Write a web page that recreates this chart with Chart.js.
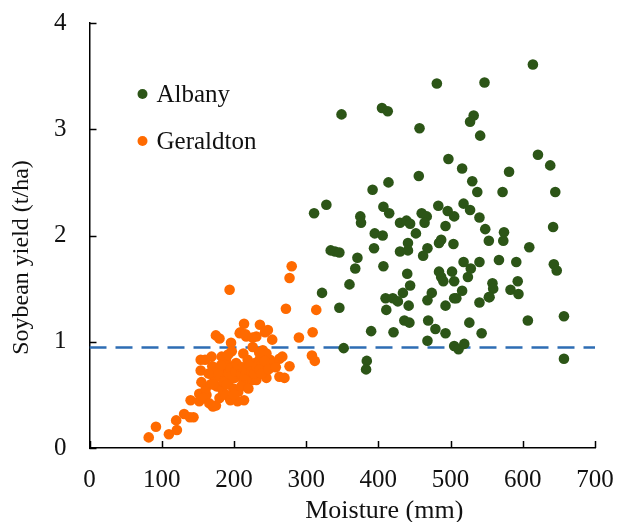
<!DOCTYPE html>
<html>
<head>
<meta charset="utf-8">
<script src="https://cdn.jsdelivr.net/npm/chart.js@4.4.1/dist/chart.umd.min.js"></script>
<style>
  html, body { margin: 0; padding: 0; background: #fff; }
  #wrap { width: 617px; height: 522px; }
</style>
</head>
<body>
<div id="wrap"><canvas id="yieldChart" width="617" height="522"></canvas></div>
<script>
// Series names and colours
const seriesNames = ['Albany', 'Geraldton'];
const seriesColors = ['#2c5517', '#ff6a00'];

// Albany: moisture (mm) and soybean yield (t/ha)
const albanyMoisture = [349, 405, 413, 481, 547, 457, 532, 527, 541, 497, 516, 456, 414, 392, 530, 537,
    328, 311, 375, 407, 415, 483, 496, 518, 527, 460, 467, 505, 540, 614, 621, 638, 581, 572, 645,
    376, 548, 553, 430, 439, 444, 464, 493, 452, 395, 406, 441, 441, 430, 487, 484, 504, 394, 468,
    462, 334, 340, 346, 371, 368, 407, 518, 528, 540, 440, 484, 487, 490, 502, 505, 524, 360, 444,
    434, 322, 410, 420, 427, 411, 442, 468, 474, 493, 505, 508, 516, 540, 553, 346, 436, 443, 469,
    479, 493, 526, 543, 390, 421, 468, 352, 505, 511, 519, 384, 383, 574, 573, 642, 609, 567, 591,
    643, 647, 558, 559, 554, 593, 583, 594, 607, 657, 657];
const albanyYield = [3.14, 3.20, 3.17, 3.43, 3.44, 3.01, 3.13, 3.07, 2.94, 2.72, 2.63, 2.56, 2.50, 2.43, 2.51, 2.41,
    2.29, 2.21, 2.18, 2.27, 2.21, 2.28, 2.23, 2.30, 2.24, 2.21, 2.18, 2.18, 2.17, 3.61, 2.76, 2.66, 2.60, 2.41, 2.41,
    2.12, 2.06, 1.95, 2.12, 2.14, 2.11, 2.12, 2.09, 2.02, 2.02, 2.00, 1.93, 1.86, 1.85, 1.96, 1.93, 1.92, 1.88, 1.88,
    1.81, 1.86, 1.85, 1.84, 1.79, 1.69, 1.71, 1.75, 1.69, 1.75, 1.64, 1.66, 1.61, 1.57, 1.66, 1.57, 1.61, 1.54, 1.53,
    1.46, 1.46, 1.41, 1.41, 1.38, 1.30, 1.34, 1.39, 1.46, 1.34, 1.41, 1.41, 1.48, 1.37, 1.42, 1.32, 1.20, 1.18, 1.20,
    1.12, 1.08, 1.18, 1.08, 1.10, 1.09, 1.01, 0.94, 0.96, 0.93, 0.98, 0.82, 0.74, 2.03, 1.95, 2.08, 1.89, 1.77, 1.75,
    1.73, 1.67, 1.55, 1.50, 1.42, 1.57, 1.49, 1.45, 1.20, 1.24, 0.84];

// Geraldton: moisture (mm) and soybean yield (t/ha)
const geraldtonMoisture = [82, 92, 110, 120, 121, 131, 139, 144, 140, 152, 152, 162, 161, 155, 154, 154, 160, 169,
    170, 171, 175, 175, 180, 183, 189, 173, 180, 176, 184, 180, 189, 194, 196, 197, 199, 203, 208, 194, 201,
    199, 206, 205, 214, 208, 217, 214, 213, 219, 213, 217, 226, 229, 226, 231, 236, 243, 247, 231, 240, 245,
    236, 240, 245, 250, 254, 245, 253, 263, 267, 263, 270, 277, 272, 277, 280, 290, 314, 309, 308, 312,
    185, 188, 192, 195, 198, 202, 205, 210, 212, 215, 218, 222, 224, 228, 232, 235, 238, 242, 248, 186,
    190, 210, 220, 178, 182, 192, 235, 258, 165, 168, 195, 200, 209, 244, 216, 226, 171, 158, 166];
const geraldtonYield = [0.10, 0.20, 0.13, 0.26, 0.17, 0.32, 0.29, 0.29, 0.45, 0.44, 0.51, 0.50, 0.56, 0.62, 0.73, 0.83, 0.83, 0.86,
    0.77, 0.39, 0.40, 1.06, 1.03, 0.86, 0.83, 0.66, 0.67, 0.58, 0.55, 0.47, 0.50, 1.49, 0.99, 0.91, 0.77, 0.80, 0.73, 0.64, 0.66,
    0.56, 0.53, 0.44, 0.45, 1.08, 1.05, 1.17, 0.89, 0.83, 0.64, 0.61, 0.95, 0.80, 0.64, 0.64, 1.16, 1.09, 1.11, 1.05, 0.92, 0.89,
    0.84, 0.80, 0.77, 0.83, 0.80, 0.66, 1.02, 0.84, 0.86, 0.67, 0.66, 0.77, 1.31, 1.60, 1.71, 1.04, 1.30, 1.09, 0.87, 0.82,
    0.72, 0.78, 0.70, 0.75, 0.68, 0.72, 0.78, 0.70, 0.76, 0.68, 0.74, 0.78, 0.72, 0.70, 0.76, 0.74, 0.70, 0.82, 0.74, 0.62,
    0.60, 0.58, 0.56, 0.72, 0.78, 0.88, 0.90, 0.76, 0.70, 0.60, 0.45, 0.50, 1.09, 1.10, 1.07, 1.04, 0.60, 0.47, 0.42];

// Threshold line and axis ticks
const yieldThreshold = 0.945;
const xTickValues = [0, 100, 200, 300, 400, 500, 600, 700];
const yTickValues = [0, 1, 2, 3, 4];

const serif = "'Liberation Serif', 'Times New Roman', serif";

function toPoints(xs, ys) {
    return xs.map((x, i) => ({ x: x, y: ys[i] }));
}

// inward tick marks, titles and the legend drawn inside the plot
const decorPlugin = {
    id: 'decor',
    afterDraw(chart) {
        const ctx = chart.ctx;
        const area = chart.chartArea;
        const xs = chart.scales.x;
        const ys = chart.scales.y;
        ctx.save();
        ctx.strokeStyle = '#000';
        ctx.lineWidth = 1.5;
        xTickValues.forEach(v => {
            const px = Math.round(xs.getPixelForValue(v)) + 0.5;
            ctx.beginPath();
            ctx.moveTo(px, area.bottom);
            ctx.lineTo(px, area.bottom - 7);
            ctx.stroke();
        });
        yTickValues.forEach(v => {
            const py = Math.round(ys.getPixelForValue(v)) + 0.5;
            ctx.beginPath();
            ctx.moveTo(area.left, py);
            ctx.lineTo(area.left + 7, py);
            ctx.stroke();
        });

        ctx.fillStyle = '#111';
        ctx.textAlign = 'center';
        ctx.textBaseline = 'middle';
        ctx.font = '26px ' + serif;
        ctx.fillText('Moisture (mm)', (area.left + area.right) / 2 + 42, 511);

        ctx.save();
        ctx.font = '24px ' + serif;
        ctx.translate(22, (area.top + area.bottom) / 2 + 22);
        ctx.rotate(-Math.PI / 2);
        ctx.fillText('Soybean yield (t/ha)', 0, 0);
        ctx.restore();

        // legend
        ctx.font = '25px ' + serif;
        ctx.textAlign = 'left';
        seriesNames.forEach((name, i) => {
            const cy = area.top + 71 + i * 47;
            ctx.fillStyle = seriesColors[i];
            ctx.beginPath();
            ctx.arc(area.left + 53, cy, 5, 0, Math.PI * 2);
            ctx.fill();
            ctx.fillStyle = '#111';
            ctx.fillText(name, area.left + 67, cy + 1);
        });
        ctx.restore();
    }
};

const ctx = document.getElementById('yieldChart').getContext('2d');
new Chart(ctx, {
    type: 'scatter',
    data: {
        datasets: [
            {
                label: seriesNames[0],
                data: toPoints(albanyMoisture, albanyYield),
                backgroundColor: seriesColors[0],
                borderWidth: 0,
                pointRadius: 5.3
            },
            {
                label: seriesNames[1],
                data: toPoints(geraldtonMoisture, geraldtonYield),
                backgroundColor: seriesColors[1],
                borderWidth: 0,
                pointRadius: 5.3
            },
            {
                type: 'line',
                label: 'threshold',
                data: [{ x: xTickValues[0], y: yieldThreshold }, { x: xTickValues[xTickValues.length - 1], y: yieldThreshold }],
                borderColor: '#2e6db4',
                borderWidth: 2.5,
                borderDash: [17, 9],
                pointRadius: 0,
                fill: false
            }
        ]
    },
    options: {
        responsive: false,
        animation: false,
        devicePixelRatio: 1,
        layout: { padding: { left: 54, right: 22, top: 23, bottom: 27 } },
        plugins: {
            legend: { display: false },
            tooltip: { enabled: false }
        },
        scales: {
            x: {
                type: 'linear',
                min: 0,
                max: 700,
                afterBuildTicks: scale => { scale.ticks = xTickValues.map(v => ({ value: v })); },
                grid: { display: false, drawTicks: true, tickLength: 17 },
                border: { display: true, color: '#000', width: 1.5 },
                ticks: { color: '#111', padding: 0, font: { family: serif, size: 25 } }
            },
            y: {
                type: 'linear',
                min: 0,
                max: 4,
                afterBuildTicks: scale => { scale.ticks = yTickValues.map(v => ({ value: v })); },
                grid: { display: false, drawTicks: true, tickLength: 23 },
                border: { display: true, color: '#000', width: 1.5 },
                ticks: { color: '#111', padding: 0, font: { family: serif, size: 25 } }
            }
        }
    },
    plugins: [decorPlugin]
});
</script>
</body>
</html>
